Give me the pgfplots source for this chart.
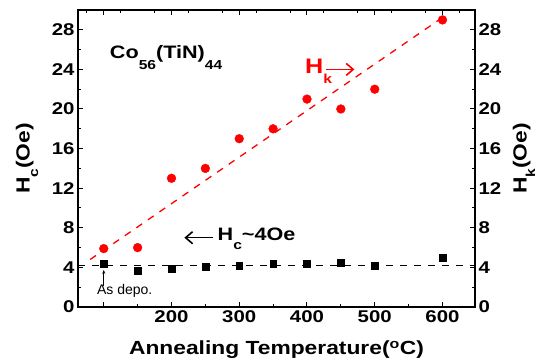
\documentclass[border=0pt]{standalone}
\usepackage{fontspec}
\setmainfont{Liberation Sans}
\newfontfamily\widefont[FakeStretch=1.2]{Liberation Sans}
\usepackage{pgfplots}
\pgfplotsset{compat=1.18}
\usetikzlibrary{arrows.meta}

\newcommand\sub[2]{\raisebox{-#2}{\fontsize{13}{13}\selectfont #1}}

\pgfplotstableread{
x y
100 5.9
150 6.0
200 13.0
250 14.0
300 17.0
350 18.0
400 21.0
450 20.0
500 22.0
600 29.0
}\hkdata

\pgfplotstableread{
x y
100 4.35
150 3.7
200 3.85
250 4.05
300 4.15
350 4.35
400 4.4
450 4.45
500 4.2
600 5.0
}\hcdata

\tikzset{lab/.style={font=\widefont\fontsize{19}{21}\selectfont\bfseries}}

\begin{document}
\begin{tikzpicture}
\useasboundingbox (-78pt,-54pt) rectangle (462pt,307pt);
\pgfplotsset{
  common/.style={
    at={(0pt,0pt)}, anchor=south west,
    scale only axis, width=397pt, height=297pt,
    xmin=62, xmax=648, ymin=0, ymax=30,
    axis line style={line width=1.8pt},
    tick style={black, line width=1pt},
    major tick length=5pt, minor tick length=3pt,
    tick align=inside,
    ytick={0,4,...,28}, minor ytick={2,6,...,30},
    ticklabel style={font=\widefont\fontsize{17}{19}\selectfont\bfseries},
    /pgf/number format/assume math mode=true,
    clip=false,
  },
}
\begin{axis}[common,
  xtick={100,200,...,600}, xticklabels={,200,300,400,500,600},
  minor xtick={150,250,...,550},
  xtick pos=bottom, ytick pos=left,
  xlabel={Annealing Temperature(\textsuperscript{o}C)},
  ylabel={H\sub{c}{0.45em}(Oe)},
  xlabel style={lab, at={(axis description cs:0.5,0)}, anchor=center, yshift=-43pt},
  ylabel style={lab, at={(axis description cs:-0.1285,0.5)}, anchor=center},
]
% fitted lines
\addplot[red, line width=1.3pt, dash pattern=on 7pt off 7pt] coordinates {(80,4.8) (597,29.1)};
\addplot[black, line width=1pt, dash pattern=on 7pt off 7pt] coordinates {(62,4.15) (648,4.15)};
% data
\addplot[only marks, mark=*, red, mark size=4.4pt] table {\hkdata};
\addplot[only marks, mark=square*, black, mark size=3.4pt] table {\hcdata};
% annotations
\node[anchor=west, font=\widefont\fontsize{18}{20}\selectfont\bfseries] at (axis cs:104,25.2) {Co\sub{56}{0.6em}(TiN)\sub{44}{0.6em}};
\node[anchor=west, red, font=\widefont\fontsize{21}{23}\selectfont\bfseries] at (axis cs:392,23.8) {H\sub{k}{0.5em}};
\draw[red, line width=1.6pt, -{Straight Barb[length=7pt, width=12pt]}] (axis cs:428,24.0) -- (axis cs:470,24.0);
\draw[black, line width=1.6pt, -{Straight Barb[length=7pt, width=12pt]}] (axis cs:262,7.0) -- (axis cs:219,7.0);
\node[anchor=west, font=\widefont\fontsize{18}{20}\selectfont\bfseries] at (axis cs:263,6.9) {H\sub{c}{0.5em}\textasciitilde4Oe};
\node[font=\fontsize{14}{16}\selectfont] at (axis cs:131,1.6) {As depo.};
\draw[black, line width=0.5pt, -{Stealth[length=4pt, width=3pt]}] (axis cs:100,2.1) -- (axis cs:100,3.75);
\end{axis}
\begin{axis}[common,
  xtick={100,200,...,600}, xticklabels={},
  minor xtick={75,125,...,625},
  xtick pos=top, ytick pos=right, yticklabel pos=right,
  ylabel={H\sub{k}{0.45em}(Oe)},
  ylabel style={lab, at={(axis description cs:1.1234,0.5)}, anchor=center},
]
\end{axis}
\end{tikzpicture}
\end{document}
